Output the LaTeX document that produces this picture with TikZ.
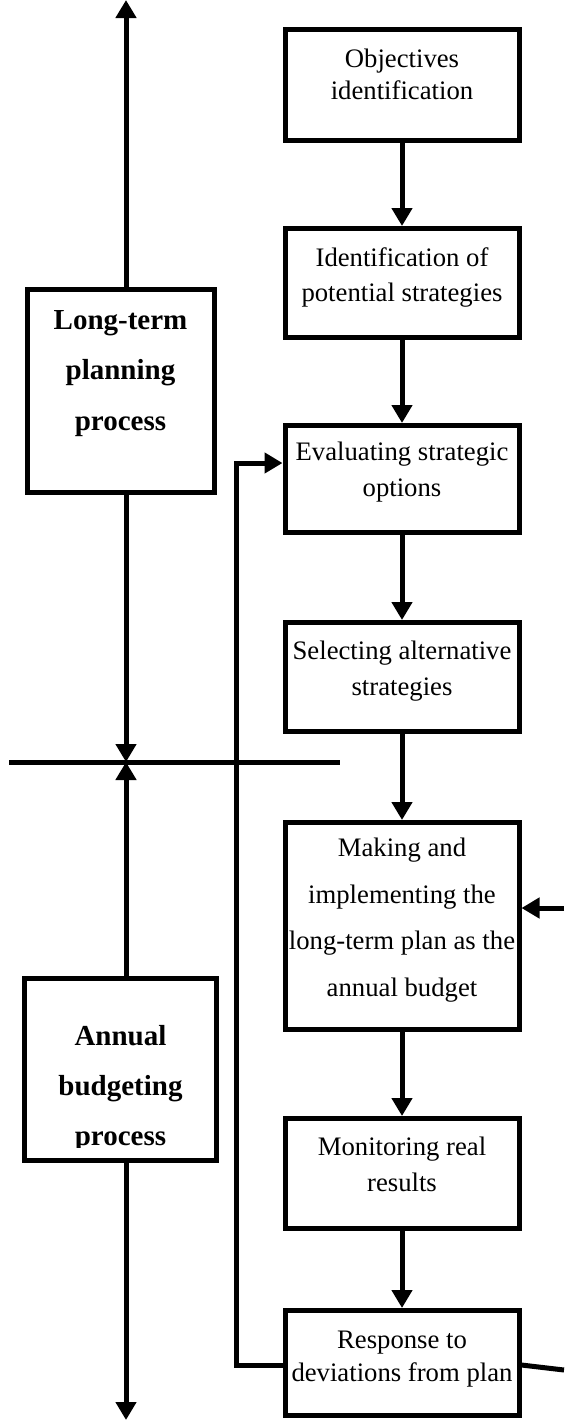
\documentclass[tikz,border=0pt]{standalone}
\usepackage{fontspec}
\setmainfont{Liberation Serif}
\usetikzlibrary{arrows.meta}

\tikzset{
  stepbox/.style={draw, minimum width=117pt, inner sep=0pt, align=center},
  sidebox/.style={draw, minimum width=93.5pt, inner sep=0pt, align=center},
  spacing/.style={font=\fontsize{13.35}{#1}\selectfont},
  boldspacing/.style={font=\fontsize{14.5}{#1}\selectfont\bfseries}
}

\begin{document}
\begin{tikzpicture}[x=0.5pt,y=-0.5pt,line width=2.5pt,>={Triangle[length=9pt,width=10pt]}]
  \useasboundingbox (0,0) rectangle (564,1421);

  % steps of the process, top to bottom
  \node[stepbox,minimum height=55.5pt,text height=34.8pt,text depth=20.7pt,spacing=15.7pt] (objectives) at (402,85) {Objectives\\identification};
  \node[stepbox,minimum height=54.5pt,text height=36.6pt,text depth=17.9pt,spacing=17.85pt] (strategies) at (402,283) {Identification of\\potential strategies};
  \node[stepbox,minimum height=53.5pt,text height=35.6pt,text depth=17.9pt,spacing=18pt] (evaluating) at (402,479) {Evaluating strategic\\options};
  \node[stepbox,minimum height=54.5pt,text height=36.25pt,text depth=18.25pt,spacing=17.85pt] (selecting) at (402,677) {Selecting alternative\\strategies};
  \node[stepbox,minimum height=103.5pt,text height=87pt,text depth=16.5pt,spacing=23.3pt] (making) at (402,926) {Making and\\implementing the\\long-term plan as the\\annual budget};
  \node[stepbox,minimum height=55pt,text height=36.6pt,text depth=18.4pt,spacing=18.35pt] (monitoring) at (402,1173.5) {Monitoring real\\results};
  \node[stepbox,minimum height=52.5pt,text height=35.6pt,text depth=16.9pt,spacing=16.7pt] (response) at (402,1363) {Response to\\deviations from plan};

  % the two processes on the left
  \node[sidebox,minimum height=101.5pt,text height=70.3pt,text depth=31.2pt,boldspacing=25.2pt] (longterm) at (120.5,391) {Long-term\\planning\\process};
  \begin{scope}
    \clip (10,970) rectangle (230,1147); %last line runs under the frame
    \node[sidebox,draw=none,minimum height=88.5pt,text height=82.25pt,text depth=6.25pt,boldspacing=25pt] (annual) at (120.5,1069) {Annual\\budgeting\\process};
  \end{scope}
  \draw (annual.south west) rectangle (annual.north east); %Frame of annual box

  \coordinate (sky) at (126,0);
  \coordinate (cross) at (126,762);
  \coordinate (ground) at (126,1420);
  \coordinate (divleft) at (9,762);
  \coordinate (divright) at (340,762);
  \coordinate (loop) at (236,1365);
  \coordinate (back) at (236,463);
  \coordinate (rightout) at (564,1370);
  \coordinate (rightin) at (564,908);

  \draw[->] (objectives) -- (strategies); %Down the steps
  \draw[->] (strategies) -- (evaluating);
  \draw[->] (evaluating) -- (selecting);
  \draw[->] (selecting) -- (making);
  \draw[->] (making) -- (monitoring);
  \draw[->] (monitoring) -- (response);

  \draw (divleft) -- (divright); %Draw dividing line
  \draw[->] (longterm.north -| sky) -- (sky); %Draw upper arrow
  \draw[->] (longterm.south -| sky) -- (cross);
  \draw[->] (annual.north -| sky) -- (cross);
  \draw[->] (annual.south -| sky) -- (ground); %Draw lower arrow

  \draw[->] (response.west |- loop) -- (loop) -- (back) -- (evaluating.west |- back); %Feedback loop
  \draw (response.east |- loop) -- (rightout);
  \draw[->] (rightin) -- (making.east |- rightin);
\end{tikzpicture}
\end{document}
